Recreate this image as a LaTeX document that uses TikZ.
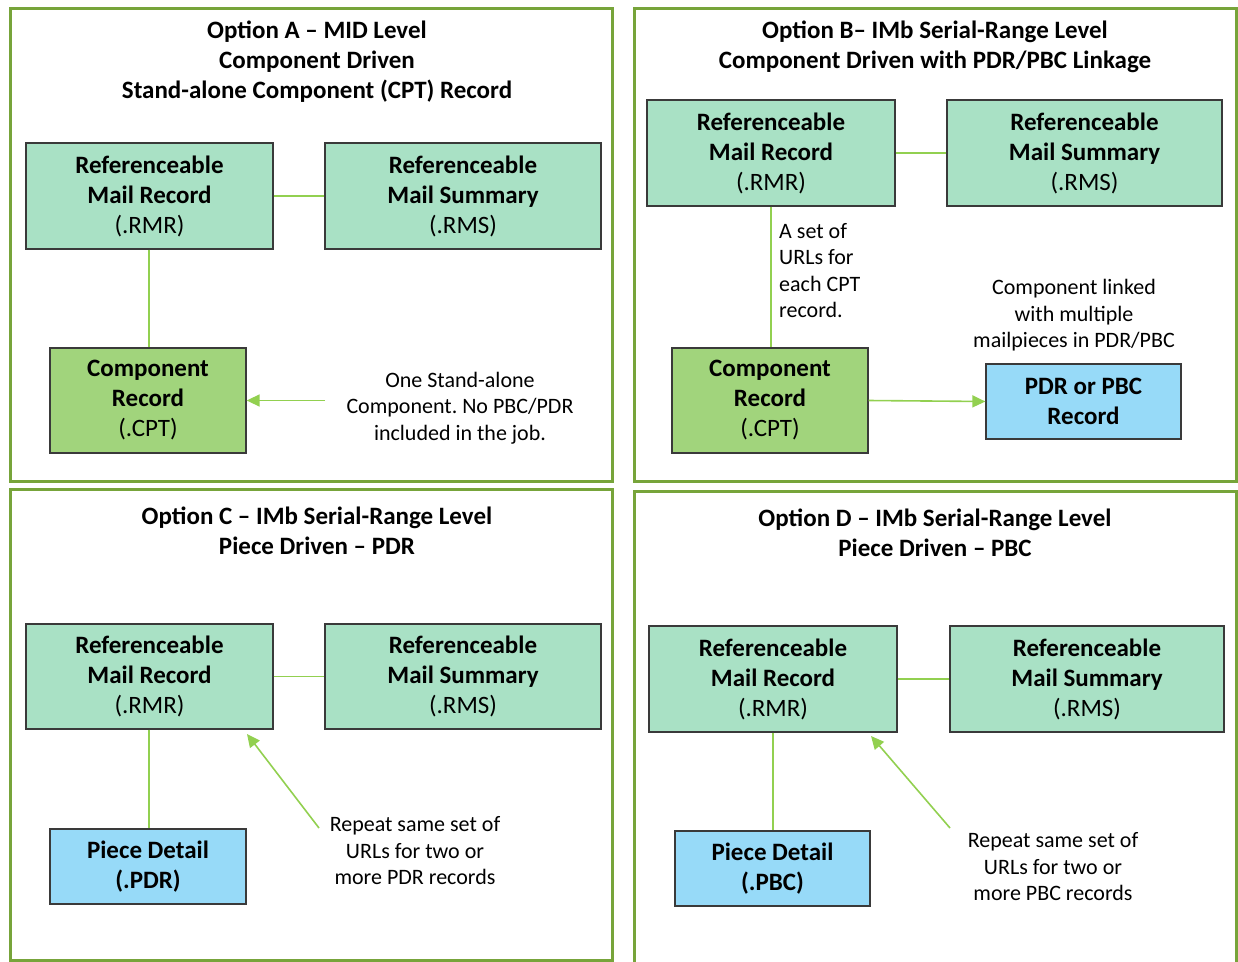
\documentclass[tikz,border=0pt]{standalone}
\usepackage{fontspec}
\setmainfont{Carlito}
\usetikzlibrary{arrows.meta}
\frenchspacing
\definecolor{panelc}{HTML}{77A43A}
\definecolor{mint}{HTML}{A9E1C5}
\definecolor{cptg}{HTML}{A1D47C}
\definecolor{skyb}{HTML}{97DAF8}
\definecolor{linkc}{HTML}{92D050}
\definecolor{edgec}{HTML}{3A3A3A}
\tikzset{
  panel/.style={draw=panelc, line width=3pt},
  rec/.style={draw=edgec, line width=1.3pt, inner sep=0pt, align=center,
    font=\fontsize{25}{30}\selectfont},
  rmrbox/.style={rec, fill=mint},
  cptbox/.style={rec, fill=cptg},
  pbox/.style={rec, fill=skyb},
  ttl/.style={align=center, font=\fontsize{25}{30}\selectfont\bfseries, inner sep=0pt},
  note/.style={align=center, font=\fontsize{22}{26.5}\selectfont, inner sep=0pt},
  link/.style={draw=linkc, line width=1.6pt},
  arr/.style={link, -{Triangle[length=13pt,width=12pt]}},
}
\begin{document}
\begin{tikzpicture}[x=1pt,y=-1pt]
\useasboundingbox (0,0) rectangle (1238,961);
\clip (0,0) rectangle (1238,961);
% panels
\draw[panel] (10.5,8) rectangle (612.5,481);
\draw[panel] (634,8) rectangle (1236.5,481);
\draw[panel] (10.5,489) rectangle (612.5,960);
\draw[panel] (634,491) rectangle (1236.5,975);

% ---------- Option A ----------
\node[ttl] (tA) at (317,62) {Option A – MID Level\\Component Driven\\Stand-alone Component (CPT) Record};
\node[rmrbox, minimum width=247pt, minimum height=106pt] (aRMR) at (149.5,196) {\textbf{Referenceable}\\\textbf{Mail Record}\\(.RMR)};
\node[rmrbox, minimum width=276pt, minimum height=106pt] (aRMS) at (463,196) {\textbf{Referenceable}\\\textbf{Mail Summary}\\(.RMS)};
\node[cptbox, minimum width=196pt, minimum height=105pt] (aCPT) at (148,400.5) {\textbf{Component}\\\textbf{Record}\\(.CPT)};
\node[note] (aN) at (460,408) {One Stand-alone\\Component. No PBC/PDR\\included in the job.};
\coordinate (aT) at (325,400.5);
\draw[link] (aRMR.east) -- (aRMS.west);
\draw[link] ([xshift=-0.5pt]aRMR.south) -- ([xshift=-0.5pt]aRMR.south |- aCPT.north);
\draw[arr] (aT) -- (aCPT.east);

% ---------- Option B ----------
\node[ttl] (tB) at (935,47) {Option B– IMb Serial-Range Level\\Component Driven with PDR/PBC Linkage};
\node[rmrbox, minimum width=248pt, minimum height=106pt] (bRMR) at (771,153) {\textbf{Referenceable}\\\textbf{Mail Record}\\(.RMR)};
\node[rmrbox, minimum width=275pt, minimum height=106pt] (bRMS) at (1084.5,153) {\textbf{Referenceable}\\\textbf{Mail Summary}\\(.RMS)};
\node[cptbox, minimum width=196pt, minimum height=105pt] (bCPT) at (770,400.5) {\textbf{Component}\\\textbf{Record}\\(.CPT)};
\node[pbox, minimum width=195pt, minimum height=75pt] (bPDR) at (1083.5,401.5) {\textbf{PDR or PBC}\\\textbf{Record}};
\node[note, align=left, anchor=west] (bL) at (779,270.5) {A set of\\URLs for\\each CPT\\record.};
\node[note] (bN) at (1074,315.5) {Component linked\\with multiple\\mailpieces in PDR/PBC};
\draw[link] (bRMR.east) -- (bRMS.west);
\draw[link] (bRMR.south) -- (bRMR.south |- bCPT.north);
\draw[arr] (bCPT.east) -- (bPDR.west);

% ---------- Option C ----------
\node[ttl] (tC) at (317,531) {Option C – IMb Serial-Range Level\\Piece Driven – PDR};
\node[rmrbox, minimum width=247pt, minimum height=105pt] (cRMR) at (149.5,676.5) {\textbf{Referenceable}\\\textbf{Mail Record}\\(.RMR)};
\node[rmrbox, minimum width=276pt, minimum height=105pt] (cRMS) at (463,676.5) {\textbf{Referenceable}\\\textbf{Mail Summary}\\(.RMS)};
\node[pbox, minimum width=196pt, minimum height=75pt] (cPDR) at (148,866.5) {\textbf{Piece Detail}\\\textbf{(.PDR)}};
\node[note] (cN) at (415,851) {Repeat same set of\\URLs for two or\\more PDR records};
\coordinate (cT) at (319,828);
\coordinate (cH) at (247,734);
\draw[link] (cRMR.east) -- (cRMS.west);
\draw[link] ([xshift=-0.5pt]cRMR.south) -- ([xshift=-0.5pt]cRMR.south |- cPDR.north);
\draw[arr] (cT) -- (cH);

% ---------- Option D ----------
\node[ttl] (tD) at (935,533) {Option D – IMb Serial-Range Level\\Piece Driven – PBC};
\node[rmrbox, minimum width=248pt, minimum height=106pt] (dRMR) at (773,679) {\textbf{Referenceable}\\\textbf{Mail Record}\\(.RMR)};
\node[rmrbox, minimum width=274pt, minimum height=106pt] (dRMS) at (1087,679) {\textbf{Referenceable}\\\textbf{Mail Summary}\\(.RMS)};
\node[pbox, minimum width=195pt, minimum height=75pt] (dPBC) at (772.5,868.5) {\textbf{Piece Detail}\\\textbf{(.PBC)}};
\node[note] (dN) at (1053,867) {Repeat same set of\\URLs for two or\\more PBC records};
\coordinate (dT) at (950,828);
\coordinate (dH) at (871,736);
\draw[link] (dRMR.east) -- (dRMS.west);
\draw[link] (dRMR.south) -- (dRMR.south |- dPBC.north);
\draw[arr] (dT) -- (dH);
\end{tikzpicture}
\end{document}
